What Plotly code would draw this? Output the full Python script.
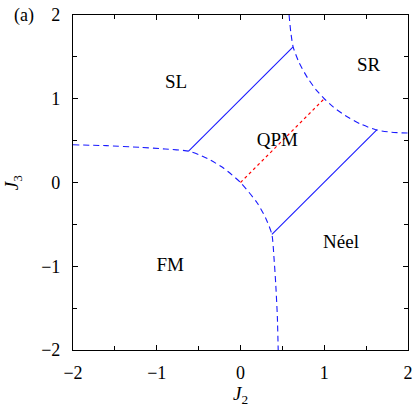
import plotly.graph_objects as go

# FM boundary (dashed)
fm_j2 = [-2.0, -1.6, -1.2, -0.9, -0.62, -0.5, -0.36, -0.2, 0.0, 0.2, 0.3, 0.375, 0.40, 0.42, 0.44, 0.45]
fm_j3 = [0.45, 0.44, 0.42, 0.40, 0.375, 0.334, 0.268, 0.17, 0.0, -0.244, -0.423, -0.62, -0.9, -1.2, -1.6, -2.0]

# SR boundary (dashed)
sr_j2 = [0.58, 0.60, 0.628, 0.70, 0.80, 0.90, 1.0, 1.11, 1.25, 1.43, 1.62, 1.80, 2.0]
sr_j3 = [2.0, 1.80, 1.62, 1.43, 1.25, 1.11, 1.0, 0.90, 0.80, 0.70, 0.628, 0.60, 0.59]

# solid boundaries of QPM
up_j2 = [-0.62, 0.628]
up_j3 = [0.375, 1.62]
lo_j2 = [0.375, 1.633]
lo_j3 = [-0.62, 0.634]

# red dotted line
dot_j2 = [0.0, 1.0]
dot_j3 = [0.0, 1.0]

# region labels
lab_text = ["SL", "SR", "QPM", "FM", "Néel"]
lab_j2 = [-0.77, 1.53, 0.44, -0.84, 1.20]
lab_j3 = [1.18, 1.39, 0.495, -1.0, -0.72]

blue = "#1a1aff"
FONT = "Liberation Serif"
fig = go.Figure()
fig.add_trace(go.Scatter(x=fm_j2, y=fm_j3, mode="lines", line=dict(color=blue, width=1.1, dash="6px,4px", shape="spline", smoothing=0.6)))
fig.add_trace(go.Scatter(x=sr_j2, y=sr_j3, mode="lines", line=dict(color=blue, width=1.1, dash="6px,4px", shape="spline", smoothing=0.6)))
fig.add_trace(go.Scatter(x=up_j2, y=up_j3, mode="lines", line=dict(color=blue, width=1.1)))
fig.add_trace(go.Scatter(x=lo_j2, y=lo_j3, mode="lines", line=dict(color=blue, width=1.1)))
fig.add_trace(go.Scatter(x=dot_j2, y=dot_j3, mode="lines", line=dict(color="red", width=1.2, dash="dot")))
fig.add_trace(go.Scatter(x=lab_j2, y=lab_j3, mode="text", text=lab_text, cliponaxis=False,
                         textfont=dict(family=FONT, size=19, color="black")))

axis_common = dict(
    range=[-2, 2], showline=True, linecolor="black", linewidth=1.2, mirror="ticks",
    ticks="inside", ticklen=5, tickwidth=1, tickcolor="black", dtick=1, tick0=0,
    showgrid=False, zeroline=False, automargin=False,
    minor=dict(ticks="inside", ticklen=3.5, tickwidth=1, tickcolor="black", dtick=0.5, showgrid=False),
    tickfont=dict(family=FONT, size=18, color="black"),
)
fig.update_layout(
    width=416, height=409,
    margin=dict(l=73, r=8, t=15, b=59, pad=0, autoexpand=False),
    plot_bgcolor="white", paper_bgcolor="white",
    showlegend=False,
    xaxis=dict(**axis_common, ticklabelstandoff=6),
    yaxis=dict(**axis_common, ticklabelstandoff=8),
    annotations=[
        dict(text="<i>J</i><sub>2</sub>", x=0.5, y=-0.135, xref="paper", yref="paper",
             xanchor="center", yanchor="middle",
             showarrow=False, font=dict(family=FONT, size=19, color="black")),
        dict(text="<i>J</i><sub>3</sub>", x=-0.18, y=0.5, xref="paper", yref="paper", textangle=-90,
             xanchor="center", yanchor="middle",
             showarrow=False, font=dict(family=FONT, size=19, color="black")),
        dict(text="(a)", x=-0.146, y=0.998, xref="paper", yref="paper",
             xanchor="center", yanchor="middle",
             showarrow=False, font=dict(family=FONT, size=18, color="black")),
    ],
)
fig.write_html("out.html", config={"displayModeBar": False},
               post_script="document.body.style.margin='0';document.body.style.overflow='hidden';")
